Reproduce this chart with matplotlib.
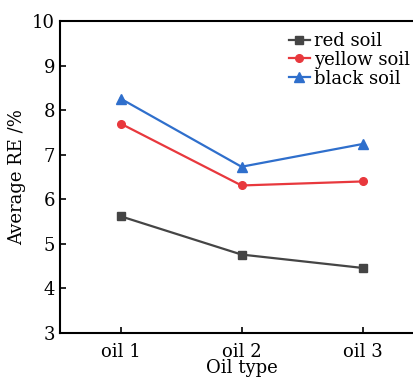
import matplotlib
matplotlib.use("Agg")
import matplotlib.pyplot as plt

categories = ["oil 1", "oil 2", "oil 3"]
red_soil = [5.62, 4.76, 4.46]
yellow_soil = [7.70, 6.31, 6.40]
black_soil = [8.26, 6.73, 7.24]

plt.rcParams['font.family'] = ['DejaVu Serif']
fig = plt.figure(figsize=(4.13, 3.77), dpi=100)
# axes extends beyond right edge (cropped like the reference)
ax = fig.add_axes([60/413, (377-333)/377, 363/413, 312/377])
x = [1, 2, 3]
ax.plot(x, red_soil, color="#454545", marker="s", ms=5.5, lw=1.6, label="red soil")
ax.plot(x, yellow_soil, color="#e8383d", marker="o", ms=5.5, lw=1.6, label="yellow soil")
ax.plot(x, black_soil, color="#2f6fcc", marker="^", ms=6.5, lw=1.6, label="black soil")
ax.set_xlim(0.5, 3.5)
ax.set_ylim(3, 10)
ax.set_xticks(x)
ax.set_xticklabels(categories)
ax.set_yticks(range(3, 11))
ax.tick_params(direction="in", labelsize=13, width=1.2, length=4)
ax.tick_params(axis="x", pad=7)
ax.spines["right"].set_visible(False)
for s in ax.spines.values():
    s.set_linewidth(1.5)
ax.set_xlabel("Oil type", fontsize=13, labelpad=-1)
ax.set_ylabel("Average RE /%", fontsize=13, labelpad=4)
ax.legend(loc="upper left", bbox_to_anchor=(0.6, 1.0), frameon=False, fontsize=13,
          handlelength=1.2, handletextpad=0.2, labelspacing=0.05, borderaxespad=0.2)
fig.savefig("out.png", dpi=100)
